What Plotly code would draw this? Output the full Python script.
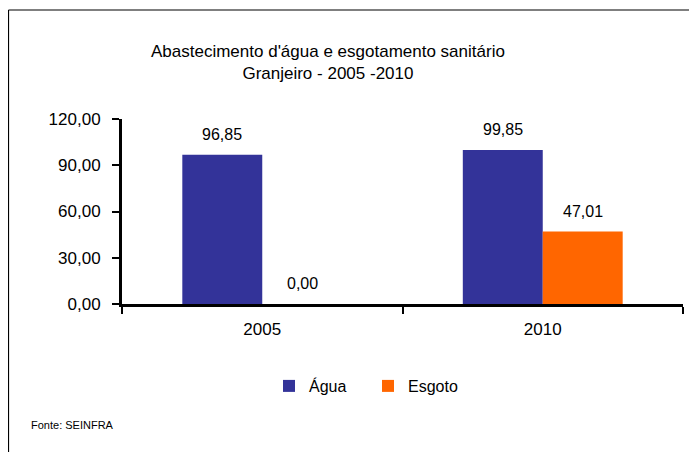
import plotly.graph_objects as go

years = ["2005", "2010"]
agua = [96.85, 99.85]
esgoto = [0.00, 47.01]
y_ticks = [0, 30, 60, 90, 120]

W, H = 697, 452
OFF = 8  # page body margin
L, T = 122 - OFF, 119 - OFF
B = H - (304 - OFF)
R = W - (683 - OFF)
pw, ph = W - L - R, H - T - B

def px(x):
    return (x - OFF - L) / pw

def py(y):
    return (H - B - (y - OFF)) / ph

FONT = "Liberation Sans, Arial, sans-serif"

fig = go.Figure()
fig.add_trace(go.Bar(name="Água", x=years, y=agua, marker_color="#333399",
                     marker_line_width=0))
fig.add_trace(go.Bar(name="Esgoto", x=years, y=esgoto, marker_color="#FF6600",
                     marker_line_width=0))

for vals, shift in ((agua, -40), (esgoto, 40)):
    for i, v in enumerate(vals):
        fig.add_annotation(x=i, y=v, xref="x", yref="y", text=f"{v:.2f}".replace(".", ","),
                           showarrow=False, xshift=shift, yshift=10, yanchor="bottom",
                           font=dict(family=FONT, size=16, color="#000"))

fig.add_annotation(xref="paper", yref="paper", x=px(328), y=py(62), xanchor="center", yanchor="middle",
                   text="Abastecimento d'água e esgotamento sanitário<br>Granjeiro - 2005 -2010",
                   showarrow=False, font=dict(family=FONT, size=17, color="#000"))
fig.add_annotation(xref="paper", yref="paper", x=px(29), y=py(425), xanchor="left", yanchor="middle",
                   text="Fonte: SEINFRA", showarrow=False,
                   font=dict(family=FONT, size=11, color="#000"))

# frame lines (top and left)
fig.add_shape(type="line", xref="paper", yref="paper", x0=px(8.5), x1=px(705), y0=py(10), y1=py(10),
              line=dict(color="#000", width=1.2))
fig.add_shape(type="line", xref="paper", yref="paper", x0=px(8.5), x1=px(8.5), y0=py(10), y1=py(460),
              line=dict(color="#000", width=1.2))

fig.update_layout(
    width=W, height=H, margin=dict(l=L, r=R, t=T, b=B),
    paper_bgcolor="white", plot_bgcolor="white",
    barmode="group", bargap=0.43, bargroupgap=0,
    separators=",.",
    font=dict(family=FONT, size=17, color="#000"),
    showlegend=True,
    legend=dict(orientation="h", x=px(269), y=py(386), xanchor="left", yanchor="middle",
                font=dict(family=FONT, size=16, color="#000"), itemwidth=30,
                entrywidth=54, entrywidthmode="pixels",
                bgcolor="rgba(0,0,0,0)"),
    xaxis=dict(type="category", showline=True, linecolor="#000", linewidth=3,
               ticks="outside", tickson="boundaries", ticklen=7, tickwidth=2, tickcolor="#000",
               showgrid=False, tickfont=dict(size=17), range=[-0.5, 1.5], ticklabelstandoff=8),
    yaxis=dict(range=[0, 120], tickvals=y_ticks, tickformat=".2f", showline=True,
               linecolor="#000", linewidth=3, ticks="outside", ticklen=7, tickwidth=2,
               tickcolor="#000", showgrid=False, zeroline=False, tickfont=dict(size=17),
               ticklabelstandoff=8),
)

fig.write_html("out.html")
